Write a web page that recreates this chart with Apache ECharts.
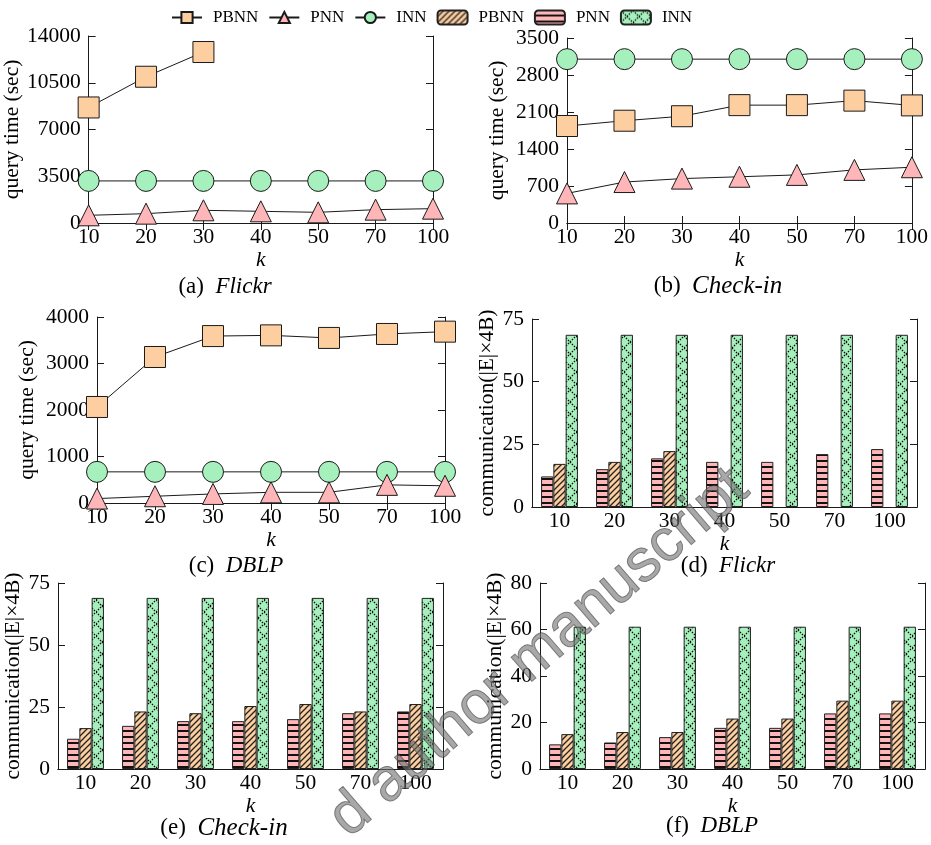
<!DOCTYPE html>
<html><head><meta charset="utf-8">
<script src="https://cdn.jsdelivr.net/npm/echarts@6/dist/echarts.min.js"></script>
<style>html,body{margin:0;padding:0;background:#fff}#c{width:931px;height:845px}</style>
</head><body><div id="c"></div>
<script>
// ---- data ----
const kValues = ['10', '20', '30', '40', '50', '70', '100'];

// (a) Flickr - query time (sec)
const flickrTimePBNN = [8650, 10950, 12800, null, null, null, null];
const flickrTimePNN  = [575, 700, 950, 875, 800, 1000, 1075];
const flickrTimeINN  = [3150, 3150, 3150, 3150, 3150, 3150, 3150];
// (b) Check-in - query time (sec)
const checkinTimePBNN = [1835, 1935, 2020, 2230, 2230, 2315, 2225];
const checkinTimePNN  = [560, 775, 840, 875, 910, 1005, 1055];
const checkinTimeINN  = [3100, 3100, 3100, 3100, 3100, 3100, 3100];
// (c) DBLP - query time (sec)
const dblpTimePBNN = [2065, 3140, 3590, 3605, 3550, 3635, 3685];
const dblpTimePNN  = [95, 145, 195, 230, 230, 390, 370];
const dblpTimeINN  = [670, 670, 670, 670, 670, 670, 670];
// (d) Flickr - communication
const flickrCommPNN  = [12.2, 15.1, 19.4, 18.0, 18.0, 21.1, 23.1];
const flickrCommPBNN = [17.2, 18.0, 22.3, null, null, null, null];
const flickrCommINN  = [68.7, 68.7, 68.7, 68.7, 68.7, 68.7, 68.7];
// (e) Check-in - communication
const checkinCommPNN  = [12.2, 17.4, 19.3, 19.3, 20.1, 22.5, 23.2];
const checkinCommPBNN = [16.5, 23.2, 22.5, 25.4, 26.2, 23.2, 26.2];
const checkinCommINN  = [69, 69, 69, 69, 69, 69, 69];
// (f) DBLP - communication
const dblpCommPNN  = [10.6, 11.4, 13.7, 17.7, 17.7, 23.9, 23.9];
const dblpCommPBNN = [15.0, 15.9, 15.9, 21.7, 21.7, 29.4, 29.4];
const dblpCommINN  = [61.2, 61.2, 61.2, 61.2, 61.2, 61.2, 61.2];

// axis ranges [min, max, interval]
const yRanges = [[0, 14000, 3500], [0, 3500, 700], [0, 4000, 1000], [0, 75, 25], [0, 75, 25], [0, 80, 20]];
const yNames = ['query time (sec)', 'query time (sec)', 'query time (sec)',
  'communication(|E|×4B)', 'communication(|E|×4B)', 'communication(|E|×4B)'];
const captionTags = ['(a)', '(b)', '(c)', '(d)', '(e)', '(f)'];
const captionNames = ['Flickr', 'Check-in', 'DBLP', 'Flickr', 'Check-in', 'DBLP'];
const lineNames = ['PBNN', 'PNN', 'INN'];
const barLegendNames = ['PBNN ', 'PNN ', 'INN '];
const watermarkText = 'd author manuscript';

// ---- styling ----
const PEACH = '#fdcea0', PINK = '#ffb6b9', GREEN = '#a5f0bc', INK = '#1a1a1a';
const FONT = 'Liberation Serif';
const FS = 21.5;

function hPattern() {
  const c = document.createElement('canvas'); c.width = 8; c.height = 6;
  const g = c.getContext('2d');
  g.fillStyle = PINK; g.fillRect(0, 0, 8, 6);
  g.fillStyle = '#111'; g.fillRect(0, 4, 8, 2);
  return c;
}
function diagPattern() {
  const c = document.createElement('canvas'); c.width = 6; c.height = 6;
  const g = c.getContext('2d');
  g.fillStyle = PEACH; g.fillRect(0, 0, 6, 6);
  g.strokeStyle = '#222'; g.lineWidth = 1.3;
  g.beginPath();
  g.moveTo(-1, 7); g.lineTo(7, -1);
  g.moveTo(-1, 1); g.lineTo(1, -1);
  g.moveTo(5, 7); g.lineTo(7, 5);
  g.stroke();
  return c;
}
function crossPattern() {
  const c = document.createElement('canvas'); c.width = 12; c.height = 12;
  const g = c.getContext('2d');
  g.fillStyle = GREEN; g.fillRect(0, 0, 12, 12);
  g.strokeStyle = '#000'; g.lineWidth = 1.2; g.setLineDash([1.5, 1.3]);
  g.beginPath();
  g.moveTo(0, 0); g.lineTo(12, 12);
  g.moveTo(0, 12); g.lineTo(12, 0);
  g.stroke();
  return c;
}
const patPNN = { image: hPattern(), repeat: 'repeat' };
const patPBNN = { image: diagPattern(), repeat: 'repeat' };
const patINN = { image: crossPattern(), repeat: 'repeat' };

// grid boxes
const grids = [
  { left: 84, top: 36, width: 349, height: 187 },
  { left: 567, top: 38, width: 349, height: 185 },
  { left: 97, top: 317, width: 348, height: 186 },
  { left: 532, top: 319, width: 385, height: 188 },
  { left: 58, top: 583, width: 385, height: 186 },
  { left: 540, top: 583, width: 385, height: 186 }
];
const nameGaps = [60, 59, 59, 31, 29, 31];
const kGaps = [22, 23, 22, 17, 19, 19];
const captionPos = [[225, 287], [718, 286], [236, 566], [728, 566], [224, 828], [712, 826]];
const captionNameSize = [23, 25, 23, 23, 25, 23];

const xAxes = [], yAxes = [], series = [];
grids.forEach((g, i) => {
  const isBar = i >= 3;
  const common = {
    type: 'category', gridIndex: i, data: kValues, boundaryGap: isBar,
    axisLine: { lineStyle: { color: INK, width: 1 } },
    axisTick: { inside: true, length: 7, lineStyle: { color: INK } },
    splitLine: { show: false }
  };
  xAxes.push(Object.assign({}, common, {
    position: 'bottom',
    axisLabel: { color: '#000', fontFamily: FONT, fontSize: FS, margin: 3 },
    name: 'k', nameLocation: 'middle', nameGap: kGaps[i],
    nameTextStyle: { color: '#000', fontFamily: FONT, fontSize: FS, fontStyle: 'italic' }
  }));
  xAxes.push(Object.assign({}, common, { position: 'top', axisLabel: { show: false } }));
  const r = yRanges[i];
  const ycommon = {
    type: 'value', gridIndex: i, min: r[0], max: r[1], interval: r[2],
    axisLine: { show: true, lineStyle: { color: INK, width: 1 } },
    axisTick: { show: true, inside: true, length: 7, lineStyle: { color: INK } },
    splitLine: { show: false }
  };
  yAxes.push(Object.assign({}, ycommon, {
    position: 'left',
    axisLabel: { color: '#000', fontFamily: FONT, fontSize: FS, margin: 8, formatter: v => String(v) },
    name: yNames[i], nameLocation: 'middle', nameGap: nameGaps[i],
    nameTextStyle: { color: '#000', fontFamily: FONT, fontSize: FS }
  }));
  yAxes.push(Object.assign({}, ycommon, { position: 'right', axisLabel: { show: false } }));
});

const timeSets = [
  [flickrTimePBNN, flickrTimePNN, flickrTimeINN],
  [checkinTimePBNN, checkinTimePNN, checkinTimeINN],
  [dblpTimePBNN, dblpTimePNN, dblpTimeINN]
];
const lineFills = { PBNN: PEACH, PNN: PINK, INN: GREEN };
const lineSymbols = { PBNN: ['rect', 21], PNN: ['triangle', [21, 21]], INN: ['circle', 21] };
timeSets.forEach((set, i) => {
  [[2, 'INN'], [0, 'PBNN'], [1, 'PNN']].forEach(([idx, nm]) => {
    series.push({
      type: 'line', name: nm, xAxisIndex: i * 2, yAxisIndex: i * 2,
      data: set[idx], symbol: lineSymbols[nm][0], symbolSize: lineSymbols[nm][1],
      showAllSymbol: true, connectNulls: false,
      lineStyle: { color: INK, width: 1 },
      itemStyle: { color: lineFills[nm], borderColor: INK, borderWidth: 1, opacity: 1 },
      emphasis: { disabled: true }, silent: true
    });
  });
});

const commSets = [
  [flickrCommPNN, flickrCommPBNN, flickrCommINN],
  [checkinCommPNN, checkinCommPBNN, checkinCommINN],
  [dblpCommPNN, dblpCommPBNN, dblpCommINN]
];
const barStyles = [['PNN ', patPNN], ['PBNN ', patPBNN], ['INN ', patINN]];
commSets.forEach((set, j) => {
  const gi = j + 3;
  barStyles.forEach(([nm, pat], k) => {
    series.push({
      type: 'bar', name: nm, xAxisIndex: gi * 2, yAxisIndex: gi * 2,
      data: set[k], barWidth: 12.3, barGap: '0%',
      itemStyle: { color: pat, borderColor: '#222', borderWidth: 1 },
      emphasis: { disabled: true }, silent: true
    });
  });
});

const graphics = captionPos.map((p, i) => ({
  type: 'text', x: p[0], y: p[1], z: 100,
  style: {
    text: '{n|' + captionTags[i] + '}  {i|' + captionNames[i] + '}',
    align: 'center', verticalAlign: 'middle',
    fontFamily: FONT, fontSize: 23, fill: '#000',
    rich: {
      n: { fontFamily: FONT, fontSize: 23, fill: '#000' },
      i: { fontFamily: FONT, fontSize: captionNameSize[i], fontStyle: 'italic', fill: '#000' }
    }
  }
}));
// manuscript watermark (visible part)
graphics.push({
  type: 'text', x: 760, y: 503, rotation: 0.71, z: 200,
  style: {
    text: watermarkText, align: 'right', verticalAlign: 'bottom',
    fontFamily: 'Liberation Sans', fontSize: 60,
    fill: 'rgba(110,110,110,0.6)', stroke: 'rgba(40,40,40,0.6)', lineWidth: 1
  }
});

const chart = echarts.init(document.getElementById('c'), null, { renderer: 'canvas' });
chart.setOption({
  animation: false,
  backgroundColor: '#fff',
  textStyle: { fontFamily: FONT },
  legend: {
    left: 166, top: 4, itemGap: 10, itemWidth: 30, itemHeight: 14,
    data: lineNames.concat(barLegendNames),
    formatter: n => n.trim(),
    textStyle: { fontFamily: FONT, fontSize: 17, color: '#000', padding: [0, 0, 0, 6] },
    selectedMode: false
  },
  grid: grids,
  xAxis: xAxes,
  yAxis: yAxes,
  series: series,
  graphic: graphics
});
</script>
</body></html>
